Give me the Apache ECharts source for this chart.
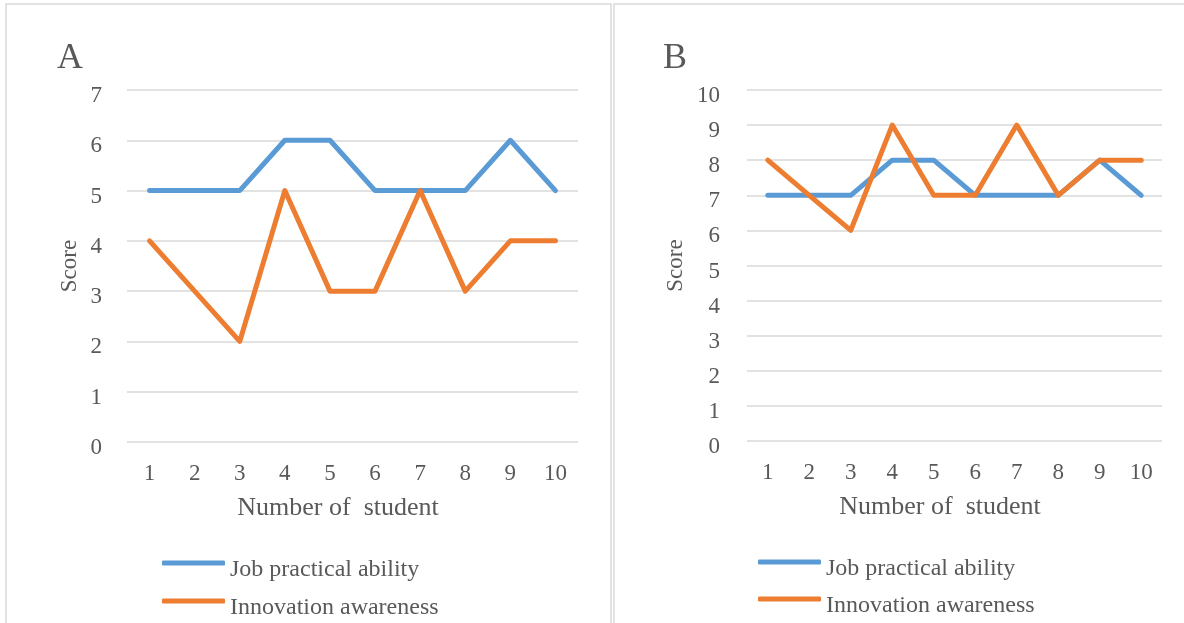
<!DOCTYPE html>
<html><head><meta charset="utf-8">
<script src="https://cdn.jsdelivr.net/npm/echarts@6/dist/echarts.min.js"></script>
<style>html,body{margin:0;padding:0;background:#fff}#c{width:1184px;height:623px}</style>
</head><body><div id="c"></div>
<script>
const students = ['1','2','3','4','5','6','7','8','9','10'];
const jobA = [5,5,5,6,6,5,5,5,6,5];
const innovA = [4,3,2,5,3,3,5,3,4,4];
const jobB = [7,7,7,8,8,7,7,7,8,7];
const innovB = [8,7,6,9,7,7,9,7,8,8];
const seriesNames = ['Job practical ability','Innovation awareness'];
const panelTitles = ['A','B'];

const FONT = 'Liberation Serif';
const GRAY = '#595959';
const BLUE = '#5B9BD5';
const ORANGE = '#ED7D31';
const GRID = '#D9D9D9';

function xAxis(gi){
  return {type:'category', gridIndex:gi, data:students, boundaryGap:true,
    axisLine:{show:false}, axisTick:{show:false},
    axisLabel:{color:GRAY, fontFamily:FONT, fontSize:23, margin:20},
    name:'Number of  student', nameLocation:'middle', nameGap:53,
    nameTextStyle:{color:GRAY, fontFamily:FONT, fontSize:26, padding:[0,29,0,0]}};
}
function yAxis(gi,max,gap,margin){
  return {type:'value', gridIndex:gi, min:0, max:max, interval:1,
    axisLine:{show:false}, axisTick:{show:false},
    splitLine:{lineStyle:{color:GRID, width:1.5}},
    axisLabel:{color:GRAY, fontFamily:FONT, fontSize:23, margin:margin, verticalAlign:'top', lineHeight:12},
    name:'Score', nameLocation:'middle', nameGap:gap,
    nameTextStyle:{color:GRAY, fontFamily:FONT, fontSize:23}};
}
function line(name,data,gi,color,z){
  return {type:'line', name:name, data:data, xAxisIndex:gi, yAxisIndex:gi,
    symbol:'none', z:z, lineStyle:{color:color, width:5, cap:'round', join:'round'}, itemStyle:{color:color}};
}
function legend(name,left,top){
  return {orient:'vertical', left:left, top:top, itemWidth:63, itemHeight:5,
    icon:'roundRect', data:[name],
    formatter:'{t|{name}}',
    textStyle:{color:GRAY, fontFamily:FONT, fontSize:24,
      rich:{t:{color:GRAY, fontFamily:FONT, fontSize:24, padding:[14,0,0,0]}}}};
}

const chart = echarts.init(document.getElementById('c'), null, {renderer:'canvas'});
chart.setOption({
  animation:false,
  backgroundColor:'#fff',
  graphic:[
    {type:'rect', shape:{x:6, y:4, width:605, height:640}, style:{fill:'none', stroke:GRID, lineWidth:1.5}, silent:true},
    {type:'rect', shape:{x:614, y:4, width:600, height:640}, style:{fill:'none', stroke:GRID, lineWidth:1.5}, silent:true}
  ],
  title:[
    {text:panelTitles[0], left:52, top:36, textStyle:{color:GRAY, fontFamily:FONT, fontSize:36, fontWeight:'normal'}},
    {text:panelTitles[1], left:658, top:36, textStyle:{color:GRAY, fontFamily:FONT, fontSize:36, fontWeight:'normal'}}
  ],
  grid:[
    {left:127, right:606, top:90, bottom:181},
    {left:747, right:22, top:90, bottom:182}
  ],
  xAxis:[xAxis(0), xAxis(1)],
  yAxis:[yAxis(0,7,46,25), yAxis(1,10,60,27)],
  legend:[
    legend(seriesNames[0],157,553), legend(seriesNames[1],157,591),
    legend(seriesNames[0],753,552), legend(seriesNames[1],753,589)
  ],
  series:[
    line(seriesNames[0], jobA, 0, BLUE, 2),
    line(seriesNames[1], innovA, 0, ORANGE, 3),
    line(seriesNames[0], jobB, 1, BLUE, 2),
    line(seriesNames[1], innovB, 1, ORANGE, 3)
  ]
});
</script></body></html>
